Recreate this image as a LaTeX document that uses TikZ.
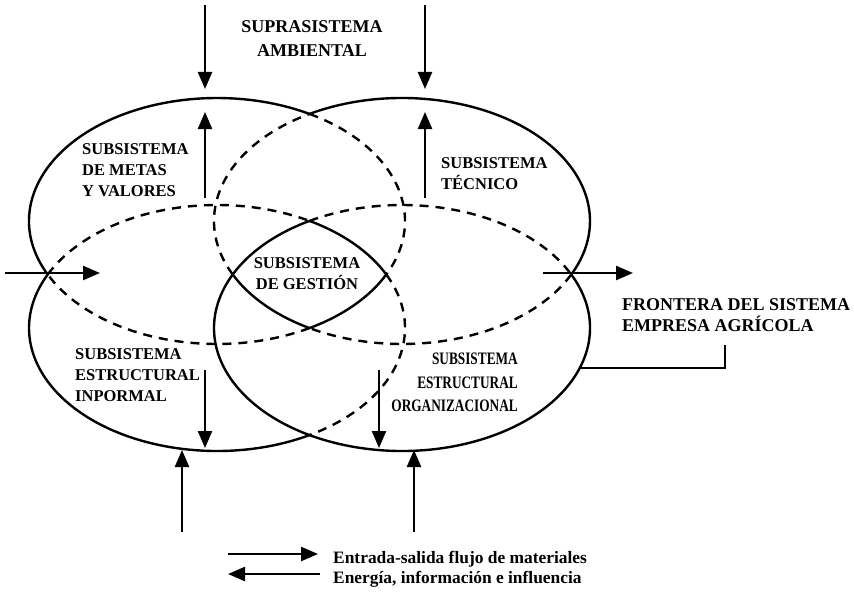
\documentclass[tikz,border=0pt]{standalone}
\usepackage{fontspec}
\setmainfont{Liberation Serif}
\newfontfamily\narrowserif[FakeStretch=0.76]{Liberation Serif}
\usetikzlibrary{arrows.meta,positioning}

\tikzset{
  border/.style={line width=2.4pt},
  inner/.style={line width=2.4pt,dash pattern=on 9pt off 7pt},
  flow/.style={line width=2.4pt,-{Triangle[length=17pt,width=14pt]}},
  lbl/.style={font=\bfseries\fontsize{16.5}{21}\selectfont,inner sep=0pt},
}

\begin{document}
\begin{tikzpicture}[x=1pt,y=-1pt]
  \useasboundingbox (0,0) rectangle (854,594);

  % centres of the four subsystems
  \coordinate (tl) at (217,221);
  \coordinate (tr) at (402,221);
  \coordinate (bl) at (217,328);
  \coordinate (br) at (402,328);

  % outer boundary solid, overlaps dashed, the middle lens solid again
  \foreach \c/\a/\b/\s in {tl/154.2/299.5/border, tl/299.5/385.8/inner,
      tl/25.8/60.5/border, tl/60.5/154.2/inner,
      tr/240.5/385.8/border, tr/25.8/119.5/inner,
      tr/119.5/154.2/border, tr/154.2/240.5/inner,
      bl/60.5/205.8/border, bl/205.8/299.5/inner,
      bl/299.5/334.2/border, bl/334.2/420.5/inner,
      br/-25.8/240.5/border, br/240.5/334.2/inner}
    \draw[\s] (\c) ++(\a:188 and 123)
      arc[start angle=\a,end angle=\b,x radius=188,y radius=123];

  % labels
  \node[lbl,font=\bfseries\fontsize{18}{24}\selectfont,align=center,anchor=north]
    (supra) at (312,20) {SUPRASISTEMA\\AMBIENTAL};
  \node[lbl,align=left,anchor=north west] (metas) at (82,143)
    {SUBSISTEMA\\DE METAS\\Y VALORES};
  \node[lbl,align=left,anchor=north west] (tecnico) at (441,157)
    {SUBSISTEMA\\TÉCNICO};
  \node[lbl,align=center,anchor=north] (gestion) at (307,257)
    {SUBSISTEMA\\DE GESTIÓN};
  \node[lbl,align=left,anchor=north west] (informal) at (75,348)
    {SUBSISTEMA\\ESTRUCTURAL\\INPORMAL};
  \node[lbl,font=\narrowserif\bfseries\fontsize{17.5}{23.5}\selectfont,
    align=right,anchor=north east] (formal) at (518,353)
    {SUBSISTEMA\\ESTRUCTURAL\\ORGANIZACIONAL};
  \node[lbl,font=\bfseries\fontsize{18}{21}\selectfont,align=left,anchor=north west]
    (frontera) at (622,298) {FRONTERA DEL SISTEMA\\EMPRESA AGRÍCOLA};

  % pointer to the boundary
  \coordinate (edge) at (580,368);
  \coordinate (fr) at (725,345);
  \draw[border] (edge) -| (fr);

  % flows across the boundary
  \coordinate (a1) at (205,5);   \coordinate (a2) at (205,89);
  \coordinate (b1) at (425,5);   \coordinate (b2) at (425,89);
  \coordinate (c1) at (205,198); \coordinate (c2) at (205,112);
  \coordinate (d1) at (425,198); \coordinate (d2) at (425,112);
  \coordinate (e1) at (5,273);   \coordinate (e2) at (100,273);
  \coordinate (f1) at (543,273); \coordinate (f2) at (633,273);
  \coordinate (g1) at (205,370); \coordinate (g2) at (205,448);
  \coordinate (h1) at (379,370); \coordinate (h2) at (379,448);
  \coordinate (i1) at (182,532); \coordinate (i2) at (182,450);
  \coordinate (j1) at (414,532); \coordinate (j2) at (414,450);
  \foreach \p in {a,b,c,d,e,f,g,h,i,j}
    \draw[flow] (\p1) -- (\p2);

  % legend
  \node[lbl,font=\bfseries\fontsize{17.4}{20}\selectfont,align=left,anchor=north west]
    (key) at (333,551) {Entrada-salida flujo de materiales\\Energía, información e influencia};
  \coordinate (k1) at (228,554); \coordinate (k2) at (318,554);
  \coordinate (l1) at (320,574); \coordinate (l2) at (228,574);
  \draw[flow] (k1) -- (k2);
  \draw[flow] (l1) -- (l2);
\end{tikzpicture}
\end{document}
